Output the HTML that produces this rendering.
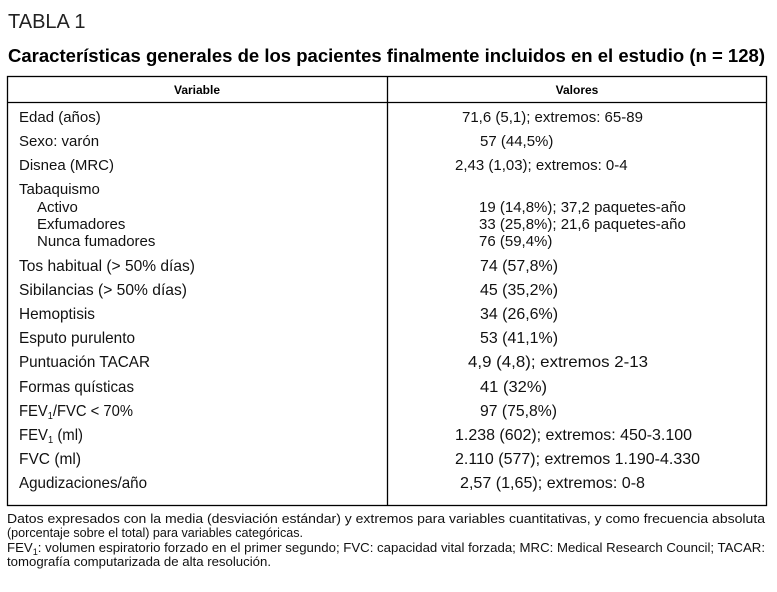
<!DOCTYPE html>
<html><head><meta charset="utf-8"><style>
html,body{margin:0;padding:0;background:#fff;}
svg{display:block;font-family:"Liberation Sans",sans-serif;}
</style></head><body>
<svg width="777" height="592" viewBox="0 0 777 592" xmlns="http://www.w3.org/2000/svg">
<text x="8" y="28" font-size="20" fill="#222">TABLA 1</text>
<text x="8" y="62" font-size="18" font-weight="bold" fill="#000" textLength="757" lengthAdjust="spacingAndGlyphs">Características generales de los pacientes finalmente incluidos en el estudio (n = 128)</text>
<rect x="7.5" y="76.5" width="759" height="429" fill="none" stroke="#000" stroke-width="1.3"/>
<line x1="7" y1="102.5" x2="767" y2="102.5" stroke="#000" stroke-width="1.3"/>
<line x1="387.5" y1="76" x2="387.5" y2="506" stroke="#000" stroke-width="1.3"/>
<text x="197" y="94" font-size="12" font-weight="bold" text-anchor="middle">Variable</text>
<text x="577" y="94" font-size="12" font-weight="bold" text-anchor="middle">Valores</text>
<g font-size="15" fill="#111">
<text x="19" y="122">Edad (años)</text>
<text x="19" y="146">Sexo: varón</text>
<text x="19" y="170">Disnea (MRC)</text>
<text x="19" y="194">Tabaquismo</text>
<text x="37" y="212">Activo</text>
<text x="37" y="229">Exfumadores</text>
<text x="37" y="246">Nunca fumadores</text>
<text x="462" y="122">71,6 (5,1); extremos: 65-89</text>
<text x="480" y="146">57 (44,5%)</text>
<text x="455" y="170">2,43 (1,03); extremos: 0-4</text>
<text x="479" y="212">19 (14,8%); 37,2 paquetes-año</text>
<text x="479" y="229">33 (25,8%); 21,6 paquetes-año</text>
<text x="479" y="246">76 (59,4%)</text>
</g>
<g font-size="16" fill="#111">
<text x="19" y="271" textLength="176" lengthAdjust="spacingAndGlyphs">Tos habitual (&gt; 50% días)</text>
<text x="19" y="295" textLength="168" lengthAdjust="spacingAndGlyphs">Sibilancias (&gt; 50% días)</text>
<text x="19" y="319" textLength="76" lengthAdjust="spacingAndGlyphs">Hemoptisis</text>
<text x="19" y="343" textLength="116" lengthAdjust="spacingAndGlyphs">Esputo purulento</text>
<text x="19" y="367" textLength="131" lengthAdjust="spacingAndGlyphs">Puntuación TACAR</text>
<text x="19" y="392" textLength="115" lengthAdjust="spacingAndGlyphs">Formas quísticas</text>
<text x="19" y="416" textLength="114" lengthAdjust="spacingAndGlyphs">FEV<tspan font-size="10" dy="3">1</tspan><tspan dy="-3">/FVC &lt; 70%</tspan></text>
<text x="19" y="440" textLength="64" lengthAdjust="spacingAndGlyphs">FEV<tspan font-size="10" dy="3">1</tspan><tspan dy="-3"> (ml)</tspan></text>
<text x="19" y="464" textLength="62" lengthAdjust="spacingAndGlyphs">FVC (ml)</text>
<text x="19" y="488" textLength="128" lengthAdjust="spacingAndGlyphs">Agudizaciones/año</text>
<text x="480" y="271" textLength="78" lengthAdjust="spacingAndGlyphs">74 (57,8%)</text>
<text x="480" y="295" textLength="78" lengthAdjust="spacingAndGlyphs">45 (35,2%)</text>
<text x="480" y="319" textLength="78" lengthAdjust="spacingAndGlyphs">34 (26,6%)</text>
<text x="480" y="343" textLength="78" lengthAdjust="spacingAndGlyphs">53 (41,1%)</text>
<text x="468" y="367" textLength="180" lengthAdjust="spacingAndGlyphs">4,9 (4,8); extremos 2-13</text>
<text x="480" y="392" textLength="67" lengthAdjust="spacingAndGlyphs">41 (32%)</text>
<text x="480" y="416" textLength="77" lengthAdjust="spacingAndGlyphs">97 (75,8%)</text>
<text x="455" y="440" textLength="237" lengthAdjust="spacingAndGlyphs">1.238 (602); extremos: 450-3.100</text>
<text x="455" y="464" textLength="245" lengthAdjust="spacingAndGlyphs">2.110 (577); extremos 1.190-4.330</text>
<text x="460" y="488" textLength="185" lengthAdjust="spacingAndGlyphs">2,57 (1,65); extremos: 0-8</text>
</g>
<g font-size="13" fill="#111">
<text x="7" y="523" textLength="758" lengthAdjust="spacingAndGlyphs">Datos expresados con la media (desviación estándar) y extremos para variables cuantitativas, y como frecuencia absoluta</text>
<text x="7" y="537" textLength="296" lengthAdjust="spacingAndGlyphs">(porcentaje sobre el total) para variables categóricas.</text>
<text x="7" y="552" textLength="758" lengthAdjust="spacingAndGlyphs">FEV<tspan font-size="9" dy="3">1</tspan><tspan dy="-3">: volumen espiratorio forzado en el primer segundo; FVC: capacidad vital forzada; MRC: Medical Research Council; TACAR:</tspan></text>
<text x="7" y="566" textLength="264" lengthAdjust="spacingAndGlyphs">tomografía computarizada de alta resolución.</text>
</g>
</svg>
</body></html>
